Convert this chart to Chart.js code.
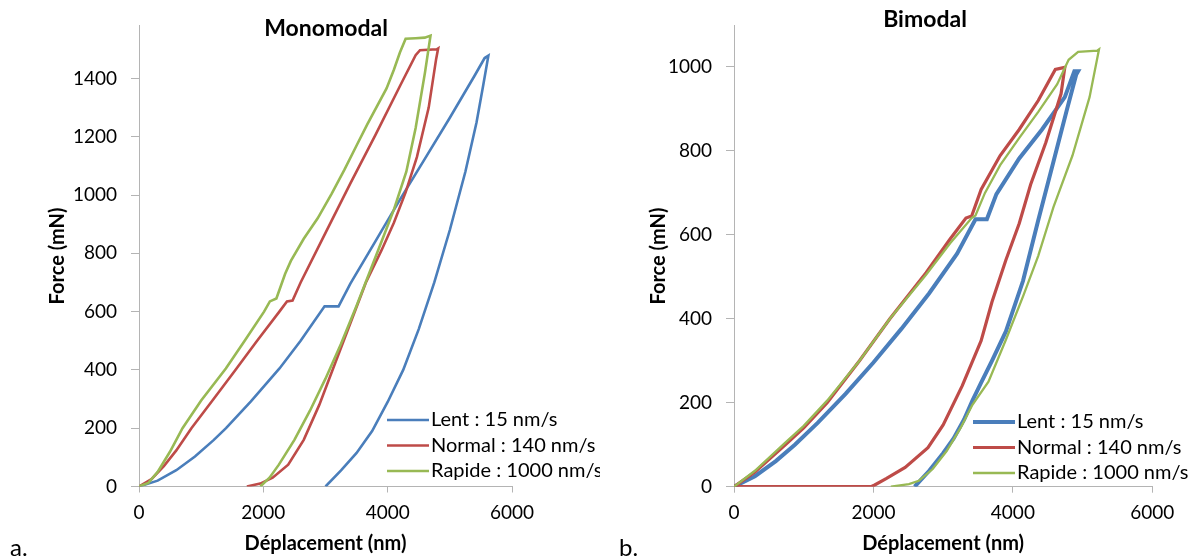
<!DOCTYPE html>
<html lang="fr">
<head>
<meta charset="utf-8">
<title>Monomodal / Bimodal</title>
<script src="https://cdn.jsdelivr.net/npm/chart.js@4.4.1/dist/chart.umd.min.js"></script>
<style>
  html, body { margin: 0; padding: 0; background: #fff; }
  #page { position: relative; width: 1197px; height: 557px; overflow: hidden; }
  .panneau { position: absolute; top: 0; }
</style>
</head>
<body>
<div id="page">
  <div class="panneau" style="left:0"><canvas id="graphA" width="600" height="557"></canvas></div>
  <div class="panneau" style="left:600px"><canvas id="graphB" width="597" height="557"></canvas></div>
</div>
<script>
// noms des séries et couleurs
const seriesNoms = ['Lent : 15 nm/s', 'Normal : 140 nm/s', 'Rapide : 1000 nm/s'];
const couleurs = ['#4a7ebb', '#be4b48', '#98b954'];

// graduations
const ticksX = [0, 2000, 4000, 6000];
const ticksYMono = [0, 200, 400, 600, 800, 1000, 1200, 1400];
const ticksYBi = [0, 200, 400, 600, 800, 1000];

// a. Monomodal : [déplacement (nm), force (mN)]
const monoLent = [
  [0, 0], [300, 20], [600, 56], [900, 103], [1200, 159], [1400, 200], [1800, 292], [2260, 405],
  [2600, 500], [2985, 618], [3210, 618], [3400, 696], [3800, 840], [4200, 985], [4600, 1125],
  [5000, 1265], [5400, 1410], [5560, 1470], [5620, 1478],
  [5540, 1380], [5430, 1250], [5250, 1080], [5000, 880], [4750, 700], [4500, 540], [4250, 400],
  [4000, 290], [3750, 190], [3500, 115], [3250, 55], [3000, 0]
];
const monoNormal = [
  [0, 0], [200, 25], [400, 70], [600, 124], [843, 200], [1200, 300], [1551, 400], [1900, 500],
  [2258, 600], [2380, 635], [2470, 638], [2600, 700], [3000, 870], [3400, 1040], [3800, 1205],
  [4200, 1375], [4450, 1480], [4520, 1497], [4790, 1500], [4812, 1503],
  [4780, 1467], [4660, 1300], [4470, 1130], [4290, 1010], [4100, 905], [3900, 810], [3650, 700],
  [3400, 560], [3150, 420], [2900, 280], [2650, 160], [2400, 75], [2150, 30], [1950, 10], [1735, 0]
];
const monoRapide = [
  [0, 0], [150, 12], [300, 50], [500, 120], [700, 200], [1000, 295], [1397, 405], [1700, 500],
  [2012, 600], [2105, 635], [2210, 645], [2351, 730], [2443, 774], [2650, 850], [2874, 920],
  [3100, 1005], [3305, 1087], [3500, 1170], [3674, 1243], [3982, 1366], [4100, 1430], [4197, 1489],
  [4289, 1536], [4450, 1538], [4597, 1540], [4689, 1547],
  [4600, 1420], [4450, 1230], [4300, 1080], [4100, 950], [3900, 840], [3700, 730], [3500, 620],
  [3250, 490], [3000, 370], [2750, 260], [2500, 160], [2250, 75], [2100, 30], [1951, 0]
];

// b. Bimodal
const biLent = [
  [0, 0], [300, 25], [600, 61], [873, 100], [1200, 152], [1600, 221], [2000, 296], [2400, 376],
  [2800, 461], [3200, 555], [3464, 637], [3627, 637], [3764, 697], [4091, 782], [4418, 851],
  [4745, 928], [4882, 990], [4936, 990],
  [4909, 982], [4773, 897], [4582, 774], [4364, 635], [4145, 490], [3900, 370], [3700, 300],
  [3545, 248], [3420, 205], [3300, 160], [3150, 115], [3000, 80], [2800, 38], [2591, 0]
];
const biNormal = [
  [0, 0], [300, 35], [736, 100], [1000, 140], [1336, 200], [1800, 300], [2236, 400], [2755, 510],
  [3100, 590], [3327, 640], [3409, 645], [3545, 708], [3818, 789], [4091, 851], [4364, 920],
  [4609, 994], [4745, 999],
  [4691, 936], [4473, 820], [4255, 720], [4091, 627], [3900, 540], [3700, 440], [3545, 348],
  [3273, 240], [3000, 147], [2782, 93], [2455, 46], [2182, 19], [2018, 4], [1964, 0], [0, 0]
];
const biRapide = [
  [0, 0], [300, 38], [736, 105], [1000, 145], [1336, 205], [1800, 300], [2236, 400], [2755, 505],
  [3100, 580], [3409, 640], [3464, 646], [3600, 700], [3818, 766], [4100, 833], [4364, 893],
  [4636, 959], [4800, 1017], [4936, 1036], [5209, 1039], [5236, 1042],
  [5100, 928], [4855, 789], [4582, 666], [4364, 550], [4150, 455], [3900, 350], [3650, 250],
  [3420, 195], [3250, 140], [3050, 85], [2850, 42], [2650, 14], [2509, 6], [2250, 0]
];

const police = 'Lato, "Open Sans", sans-serif';
const gris = '#b4b4b4';

// textes posés dans le graphe : titre, légende, repère a./b.
const textesPlugin = {
  id: 'textes',
  afterDraw(chart, args, o) {
    const ctx = chart.ctx;
    ctx.save();
    ctx.fillStyle = '#000';
    ctx.textAlign = 'center';
    ctx.textBaseline = 'middle';
    ctx.font = 'bold 23px ' + police;
    ctx.fillText(o.titre, o.titreX, o.titreY);

    chart.data.datasets.forEach((ds, i) => {
      const y = o.legendeY + i * 25.5;
      ctx.strokeStyle = ds.borderColor;
      ctx.lineWidth = o.legendeLargeurs[i];
      ctx.beginPath();
      ctx.moveTo(o.legendeX, y);
      ctx.lineTo(o.legendeX + 42, y);
      ctx.stroke();
      ctx.textAlign = 'left';
      ctx.font = '20px ' + police;
      ctx.fillText(ds.label, o.legendeX + 44, y);
    });

    ctx.font = '24px ' + police;
    ctx.textAlign = 'left';
    ctx.textBaseline = 'alphabetic';
    ctx.fillText(o.repere, o.repereX, 556);
    ctx.restore();
  }
};

function creerGraphe(id, series, largeurs, yMax, ticksY, cadre, textes) {
  const ctx = document.getElementById(id).getContext('2d');
  const datasets = series.map((pts, i) => ({
    label: seriesNoms[i],
    data: pts.map(p => ({ x: p[0], y: p[1] })),
    borderColor: couleurs[i],
    backgroundColor: couleurs[i],
    borderWidth: largeurs[i],
    showLine: true,
    pointRadius: 0,
    tension: 0,
    order: 3 - i
  }));

  return new Chart(ctx, {
    type: 'scatter',
    data: { datasets: datasets },
    options: {
      responsive: false,
      animation: false,
      devicePixelRatio: 1,
      layout: { padding: { top: cadre.haut, right: cadre.droite, bottom: 0, left: 0 } },
      plugins: {
        legend: { display: false },
        tooltip: { enabled: false },
        textes: textes
      },
      scales: {
        x: {
          type: 'linear',
          min: 0,
          max: 6000,
          afterBuildTicks: s => { s.ticks = ticksX.map(v => ({ value: v })); },
          afterFit: s => { s.height = cadre.basAxe; },
          grid: { drawOnChartArea: false, color: gris, tickLength: 6 },
          border: { color: gris, width: 1 },
          ticks: {
            color: '#000', padding: 9, maxRotation: 0,
            font: { family: police, size: 19 },
            callback: v => String(v)
          },
          title: {
            display: true,
            text: 'Déplacement (nm)',
            color: '#000',
            padding: { top: 0, bottom: 1 },
            font: { family: police, size: 20, weight: 'bold' }
          }
        },
        y: {
          type: 'linear',
          min: 0,
          max: yMax,
          afterBuildTicks: s => { s.ticks = ticksY.map(v => ({ value: v })); },
          afterFit: s => { s.width = cadre.gauche; },
          grid: { drawOnChartArea: false, color: gris, tickLength: 8 },
          border: { color: gris, width: 1 },
          ticks: {
            color: '#000', padding: 14,
            font: { family: police, size: 19 },
            callback: v => String(v)
          },
          title: {
            display: true,
            text: 'Force (mN)',
            color: '#000',
            padding: { top: cadre.titreY, bottom: 0 },
            font: { family: police, size: 20, weight: 'bold' }
          }
        }
      }
    },
    plugins: [textesPlugin]
  });
}

creerGraphe('graphA', [monoLent, monoNormal, monoRapide], [2.6, 2.6, 2.6], 1582, ticksYMono,
  { haut: 17, droite: 88, gauche: 139, basAxe: 70.5, titreY: 46 },
  { titre: 'Monomodal', titreX: 326, titreY: 29, legendeX: 387, legendeY: 420,
    legendeLargeurs: [2.6, 2.6, 2.6], repere: 'a.', repereX: 10 });

creerGraphe('graphB', [biLent, biNormal, biRapide], [4, 3.2, 2.3], 1099, ticksYBi,
  { haut: 13, droite: 44.7, gauche: 134, basAxe: 70.3, titreY: 47 },
  { titre: 'Bimodal', titreX: 325, titreY: 20, legendeX: 373, legendeY: 422,
    legendeLargeurs: [4, 3.2, 2.3], repere: 'b.', repereX: 19 });
</script>
</body>
</html>
